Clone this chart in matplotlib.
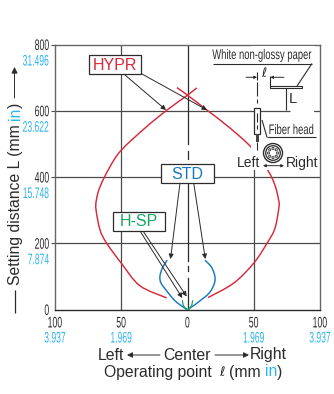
import numpy as np
import matplotlib
matplotlib.use("Agg")
import matplotlib.pyplot as plt
from matplotlib.patches import Rectangle, Circle, PathPatch
from matplotlib.path import Path
from matplotlib.patheffects import AbstractPathEffect
from matplotlib.transforms import Affine2D

# -------------------------
# DATA
# -------------------------
x_ticks = [-100, -50, 0, 50, 100]
x_labels = ["100", "50", "0", "50", "100"]
x_labels_in = ["3.937", "1.969", "", "1.969", "3.937"]
y_ticks = [0, 200, 400, 600, 800]
y_labels = ["0", "200", "400", "600", "800"]
y_labels_in = ["", "7.874", "15.748", "23.622", "31.496"]

hypr_x = [7, 0, -15.5, -32, -50, -58.5, -66, -68.8, -69, -66, -61, -50, -36, -15.7]
hypr_y = [669, 647, 602, 548, 481, 431, 371, 330, 300, 240, 200, 140, 72, 35]
hypr_r_x = [-8, 0, 14.7, 32, 48.7, 60.8, 66, 68.8, 69, 66, 60, 50, 35, 15.5]
hypr_r_y = [670, 647, 602, 548, 487, 419, 375, 330, 309, 245, 200, 140, 80, 36]

std_x = [-15.3, -19, -20.8, -20, -15.5, -9.4, -3.4, 0, 3.2, 9.4, 17, 20.8, 18.5, 13.2]
std_y = [149, 125, 100, 80, 55, 26, 8, 0, 8, 26, 53, 89, 125, 149]

hsp_x = [-3.9, -3.6, -3, -1.2, 0, 1.2, 3, 3.6, 3.9]
hsp_y = [28, 21, 11, 3, 0, 3, 11, 21, 28]

# -------------------------
# STYLE
# -------------------------
SANS = ["Liberation Sans", "DejaVu Sans"]
BLACK = "#2b2b2b"
GRID = "#4a4a4a"
BLUE = "#2fb4ee"
RED = "#d8293c"
STD_BLUE = "#1878c0"
GREEN = "#12a860"


class Narrow(AbstractPathEffect):
    # squeezes the glyphs sideways, frac says which point of the text stays put
    def __init__(self, sx, frac=0.5):
        super().__init__()
        self.sx = sx
        self.frac = frac

    def draw_path(self, renderer, gc, tpath, affine, rgbFace=None):
        w = tpath.vertices[:, 0].max() if len(tpath.vertices) else 0
        squeeze = Affine2D().scale(self.sx, 1).translate((1 - self.sx) * w * self.frac, 0)
        renderer.draw_path(gc, tpath, squeeze + affine, rgbFace)


W, H = 334, 394
fig = plt.figure(figsize=(W / 100, H / 100), dpi=100)
ax = fig.add_axes([55 / W, 1 - 309.5 / H, 265 / W, 265 / H])
ax.set_xlim(-100, 100)
ax.set_ylim(0, 800)

for side in ["left", "top", "right"]:
    ax.spines[side].set_color("#666666")
    ax.spines[side].set_linewidth(1.0)
ax.spines["bottom"].set_color(BLACK)
ax.spines["bottom"].set_linewidth(1.0)

ax.set_xticks(x_ticks)
ax.set_xticklabels(x_labels, family=SANS, fontsize=11, color=BLACK)
ax.set_yticks(y_ticks)
ax.set_yticklabels(y_labels, family=SANS, fontsize=11, color=BLACK)
ax.tick_params(axis="x", length=0, pad=5)
ax.tick_params(axis="y", length=3, width=0.8, color=GRID, pad=1)
ax.yaxis.get_major_ticks()[0].tick1line.set_visible(False)
for lab in ax.get_xticklabels():
    lab.set_path_effects([Narrow(0.57, 0.5)])
for lab in ax.get_yticklabels():
    lab.set_path_effects([Narrow(0.57, 1.0)])

# grid
for v in [-50, 50]:
    ax.axvline(v, color=GRID, lw=0.9, zorder=1)
for v in [200, 400, 600]:
    ax.axhline(v, color=GRID, lw=0.9, zorder=1)
for y0, y1 in [(800, 500), (480, 455), (400, 145), (130, 115), (95, 0)]:
    ax.plot([0, 0], [y0, y1], color=BLACK, lw=0.9, zorder=1)


def smooth_curve(xs, ys, color, lw, z):
    # bezier through the read points, in data coordinates
    pts = np.column_stack([xs, ys]).astype(float)
    verts = [pts[0]]
    codes = [Path.MOVETO]
    for i in range(len(pts) - 1):
        p0 = pts[max(i - 1, 0)]
        p1 = pts[i]
        p2 = pts[i + 1]
        p3 = pts[min(i + 2, len(pts) - 1)]
        verts += [p1 + (p2 - p0) / 6, p2 - (p3 - p1) / 6, p2]
        codes += [Path.CURVE4] * 3
    ax.add_patch(PathPatch(Path(verts, codes), fc="none", ec=color, lw=lw, zorder=z))


# curves
smooth_curve(hypr_x, hypr_y, RED, 1.05, 2)
smooth_curve(hypr_r_x, hypr_r_y, RED, 1.05, 2)
smooth_curve(std_x, std_y, STD_BLUE, 1.05, 2)
smooth_curve(hsp_x, hsp_y, GREEN, 0.9, 3)

# -------------------------
# OVERLAY IN PIXELS
# -------------------------
ov = fig.add_axes([0, 0, 1, 1], facecolor="none")
ov.set_xlim(0, W)
ov.set_ylim(H, 0)
ov.axis("off")


def seg(x0, y0, x1, y1, lw=0.8, color=BLACK, z=6):
    ov.plot([x0, x1], [y0, y1], color=color, lw=lw, zorder=z, solid_capstyle="butt")


def arrow(x0, y0, x1, y1, style="-|>", ms=7, z=5):
    ov.annotate("", xy=(x1, y1), xytext=(x0, y0), zorder=z,
                arrowprops=dict(arrowstyle=style, color=BLACK, lw=0.7, mutation_scale=ms,
                                shrinkA=0, shrinkB=0))


def label_box(x0, y0, x1, y1, text, color):
    ov.add_patch(Rectangle((x0, y0), x1 - x0, y1 - y0, fc="white", ec=BLACK, lw=0.9, zorder=7))
    ov.text((x0 + x1) / 2, (y0 + y1) / 2 + 0.5, text, color=color, family=SANS, fontsize=11.5,
            ha="center", va="center", zorder=8)


def parts_text(x, y, parts, rotation=0, fontsize=11.3):
    # lay out coloured pieces one after the other
    renderer = fig.canvas.get_renderer()
    for text, color in parts:
        t = ov.text(x, y, text, color=color, family=SANS, fontsize=fontsize, rotation=rotation,
                    rotation_mode="anchor", ha="left", va="center", zorder=8)
        bb = t.get_window_extent(renderer)
        if rotation == 90:
            y -= bb.height
        else:
            x += bb.width


# blue inch labels
for v, lab in zip(y_ticks, y_labels_in):
    if lab:
        ov.text(49, 309.5 - v * 0.33125 + 17, lab, color=BLUE, family=SANS, fontsize=11,
                ha="right", va="center", path_effects=[Narrow(0.56, 1.0)])
for v, lab in zip(x_ticks, x_labels_in):
    if lab:
        ov.text(187.5 + v * 1.325, 338.5, lab, color=BLUE, family=SANS, fontsize=11,
                ha="center", va="center", path_effects=[Narrow(0.56, 0.5)])

# white area behind the inset sketch
ov.add_patch(Rectangle((251, 46), 63, 124, fc="white", ec="none", zorder=3))
seg(250, 110.5, 290, 110.5, lw=0.9, color=GRID, z=4)

# labels and their arrows
arrow(125, 75, 166, 110)
arrow(142, 74, 207, 110)
arrow(180, 183, 170.5, 259)
arrow(193.7, 183, 205.3, 259)
arrow(140, 231, 182.3, 298)
arrow(143, 231, 186.7, 296.5)
label_box(88.5, 55, 140.5, 74, "HYPR", RED)
label_box(161, 164, 213.5, 183, "STD", STD_BLUE)
label_box(112.5, 212, 165, 230.5, "H-SP", GREEN)

# inset sketch
ov.text(262, 55, "White non-glossy paper", family=SANS, fontsize=10, color=BLACK,
        ha="center", va="center", zorder=8, path_effects=[Narrow(0.68, 0.5)])
seg(213, 63.5, 312, 63.5)
seg(312, 63.5, 297, 86)
ov.add_patch(Rectangle((270.3, 86), 32, 2.4, fc="white", ec=BLACK, lw=0.8, zorder=6))
ov.text(264, 73, "\u2113", family=["DejaVu Sans"], fontsize=9, color=BLACK, ha="center", va="center", zorder=8)
arrow(246, 77.3, 257, 77.3, ms=4, z=6)
arrow(284, 77.3, 270.3, 77.3, ms=4, z=6)
seg(257, 72, 257, 80)
seg(270.3, 76, 270.3, 86)
for y0, y1 in [(82, 96), (99, 103)]:
    seg(257, y0, 257, y1)
seg(286, 88, 286, 110)
ov.text(293, 98.5, "L", family=SANS, fontsize=10.5, color=BLACK, ha="center", va="center", zorder=8)
ov.add_patch(Rectangle((253.7, 108), 6.6, 26, fc="white", ec=BLACK, lw=0.9, zorder=6))
seg(257, 113, 257, 122)
seg(257, 125, 257, 129)
ov.add_patch(Rectangle((255.5, 134), 3, 8, fc="#444444", ec="none", zorder=6))
seg(257, 142, 257, 150)
seg(267, 137.3, 316, 137.3)
seg(267, 137.3, 262, 120)
ov.text(291.5, 130, "Fiber head", family=SANS, fontsize=10, color=BLACK, ha="center", va="center",
        zorder=8, path_effects=[Narrow(0.68, 0.5)])

ov.add_patch(Circle((273, 153), 9.5, fc="white", ec=BLACK, lw=1.0, zorder=6))
ov.add_patch(Circle((273, 153), 7.3, fc="white", ec=BLACK, lw=0.9, zorder=6))
for a in np.arange(0, 360, 45):
    ov.add_patch(Circle((273 + 4.6 * np.cos(np.radians(a)), 153 + 4.6 * np.sin(np.radians(a))),
                        1.1, fc="white", ec=BLACK, lw=0.6, zorder=7))
ov.text(249, 163, "Left", family=SANS, fontsize=10, color=BLACK, ha="center", va="center", zorder=8)
ov.text(302, 163, "Right", family=SANS, fontsize=10, color=BLACK, ha="center", va="center", zorder=8)
arrow(263, 165.7, 284, 165.7, style="<|-|>", ms=4, z=6)

# axis titles
seg(14.5, 313, 14.5, 290, lw=0.9)
parts_text(15.5, 285, [("Setting distance L (mm ", BLACK), ("in", BLUE), (")", BLACK)], rotation=90)
arrow(14.5, 98, 14.5, 67, ms=9)

ov.text(97.5, 355, "Left", family=SANS, fontsize=11.4, color=BLACK, ha="left", va="center")
ov.text(187, 355, "Center", family=SANS, fontsize=11.4, color=BLACK, ha="center", va="center")
ov.text(250, 355, "Right", family=SANS, fontsize=11.4, color=BLACK, ha="left", va="center")
arrow(160, 355, 127, 355, ms=8)
arrow(215, 355, 249, 355, ms=8)
parts_text(104, 372, [("Operating point", BLACK)])
ov.text(222, 372, "\u2113", family=["DejaVu Sans"], fontsize=9.5, color=BLACK, ha="center", va="center")
parts_text(229, 372, [("(mm ", BLACK), ("in", BLUE), (")", BLACK)])

fig.savefig("out.png", dpi=100)
